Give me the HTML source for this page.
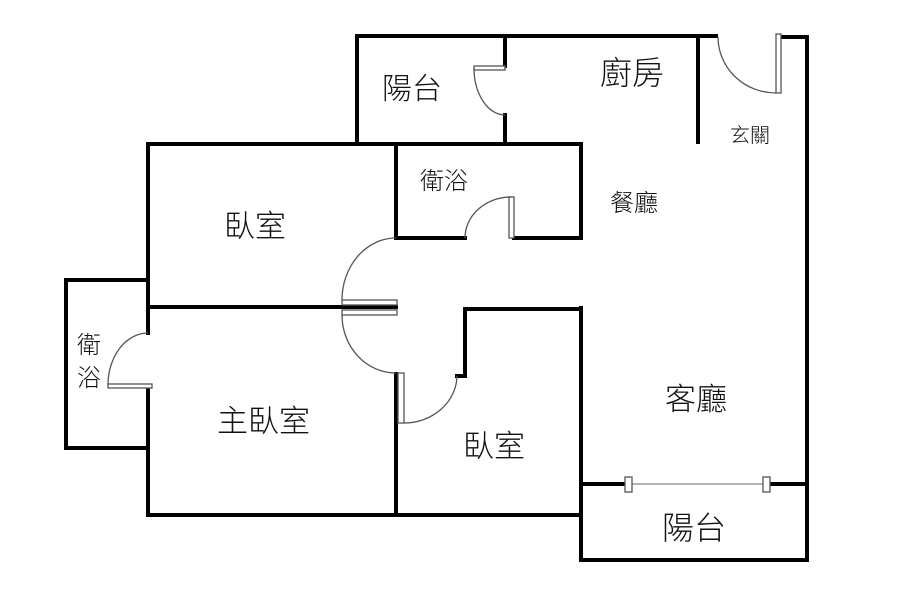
<!DOCTYPE html>
<html><head><meta charset="utf-8"><style>
html,body{margin:0;padding:0;background:#fff;}
svg{display:block;}
text{font-family:"Liberation Sans","Noto Sans CJK TC","Noto Sans CJK SC",sans-serif;fill:#111;font-weight:300;}
</style></head><body>
<svg width="900" height="595" viewBox="0 0 900 595" xmlns="http://www.w3.org/2000/svg">
<rect width="900" height="595" fill="#fff"/>
<g stroke="#000" stroke-width="4" fill="none" stroke-linecap="square">
<line x1="357" y1="36" x2="716" y2="36"/>
<line x1="781" y1="37" x2="807" y2="37"/>
<line x1="807" y1="37" x2="807" y2="560"/>
<line x1="581" y1="560" x2="807" y2="560"/>
<line x1="581" y1="308" x2="581" y2="560"/>
<line x1="148" y1="515" x2="581" y2="515"/>
<line x1="357" y1="36" x2="357" y2="144"/>
<line x1="505" y1="36" x2="505" y2="66"/>
<line x1="505" y1="115" x2="505" y2="144"/>
<line x1="698" y1="38" x2="698" y2="142"/>
<line x1="148" y1="144" x2="581" y2="144"/>
<line x1="581" y1="144" x2="581" y2="238"/>
<line x1="396" y1="144" x2="396" y2="238"/>
<line x1="396" y1="238" x2="465" y2="238"/>
<line x1="514" y1="238" x2="581" y2="238"/>
<line x1="148" y1="144" x2="148" y2="333"/>
<line x1="148" y1="390" x2="148" y2="515"/>
<line x1="66" y1="280" x2="148" y2="280"/>
<line x1="66" y1="280" x2="66" y2="448"/>
<line x1="66" y1="448" x2="148" y2="448"/>
<line x1="148" y1="307" x2="342" y2="307"/>
<line x1="342" y1="307" x2="396" y2="307"/>
<line x1="396" y1="374" x2="396" y2="515"/>
<line x1="465" y1="309" x2="581" y2="309"/>
<line x1="465" y1="309" x2="465" y2="376"/>
<line x1="457" y1="376" x2="465" y2="376"/>
<line x1="581" y1="484" x2="625" y2="484"/>
<line x1="770" y1="484" x2="807" y2="484"/>
</g>
<g stroke="#555" stroke-width="1.3" fill="#fff">
<rect x="474" y="66" width="31" height="4"/>
<path d="M474 68 A31 47 0 0 0 505 115" fill="none"/>
<rect x="776" y="34" width="5" height="59"/>
<path d="M718 37 A58 56 0 0 0 776 93" fill="none"/>
<rect x="509" y="197" width="5" height="41"/>
<path d="M465 238 A46 41 0 0 1 511 197" fill="none"/>
<path d="M396 238 A54 62 0 0 0 342 300" fill="none"/>
<rect x="342" y="300" width="55" height="5"/>
<rect x="342" y="310" width="55" height="5"/>
<path d="M342 315 A54 58 0 0 0 396 373" fill="none"/>
<rect x="398" y="373" width="6" height="50"/>
<path d="M404 423 A53 48 0 0 0 457 376" fill="none"/>
<rect x="108" y="384" width="44" height="4"/>
<path d="M108 385 A40 52 0 0 1 148 333" fill="none"/>
<line x1="630" y1="484" x2="765" y2="484" stroke="#888"/>
<rect x="625" y="477" width="7" height="15"/>
<rect x="763" y="477" width="7" height="15"/>
</g>
<text x="382" y="99" font-size="30">陽台</text>
<text x="600" y="84" font-size="32">廚房</text>
<text x="730" y="142" font-size="20">玄關</text>
<text x="420" y="189" font-size="24">衛浴</text>
<text x="610" y="211" font-size="24">餐廳</text>
<text x="224" y="237" font-size="31">臥室</text>
<text x="77" y="353" font-size="24">衛</text>
<text x="77" y="386" font-size="24">浴</text>
<text x="217" y="432" font-size="31">主臥室</text>
<text x="463" y="457" font-size="31">臥室</text>
<text x="665" y="410" font-size="31">客廳</text>
<text x="662" y="539" font-size="32">陽台</text>
</svg>
</body></html>
